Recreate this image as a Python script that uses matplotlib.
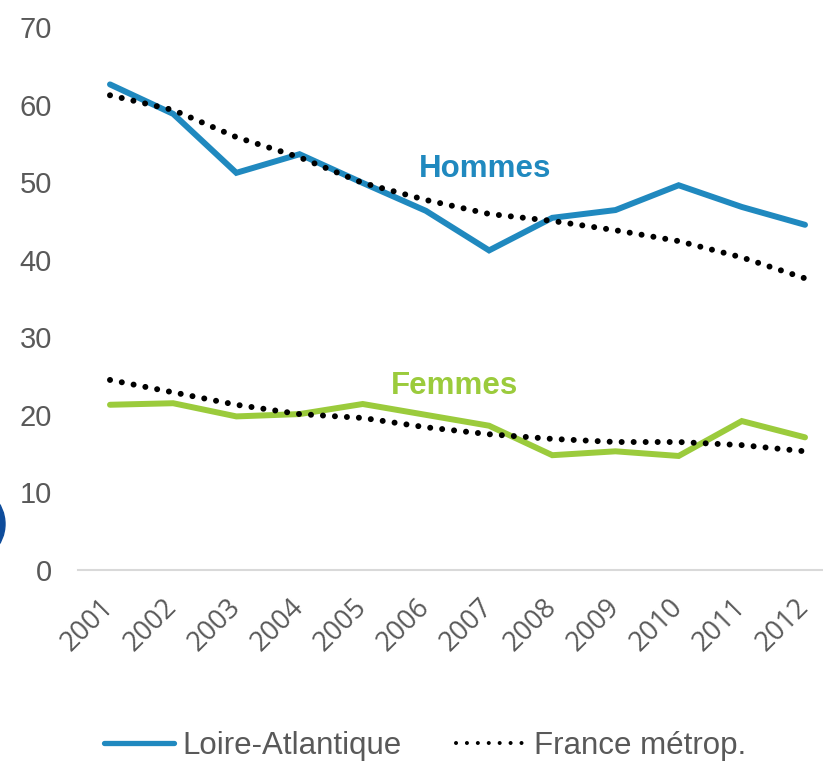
import matplotlib
matplotlib.use("Agg")
import matplotlib.pyplot as plt
from matplotlib.patches import Ellipse
from matplotlib.lines import Line2D

# Données (taux pour 100 000)
annees = ["2001", "2002", "2003", "2004", "2005", "2006",
          "2007", "2008", "2009", "2010", "2011", "2012"]
hommes_la = [62.6, 58.8, 51.2, 53.6, 49.9, 46.3, 41.2, 45.4, 46.4, 49.6, 46.8, 44.5]
hommes_fr = [61.2, 59.3, 55.8, 53.2, 49.9, 47.7, 45.9, 45.0, 43.8, 42.4, 40.3, 37.6]
femmes_la = [21.3, 21.5, 19.8, 20.1, 21.4, 20.0, 18.6, 14.8, 15.3, 14.7, 19.2, 17.1]
femmes_fr = [24.5, 22.9, 21.3, 20.1, 19.6, 18.4, 17.5, 16.9, 16.5, 16.5, 16.1, 15.3]

bleu = "#2089BF"
vert = "#9BCB3C"
gris = "#595959"

fig = plt.figure(figsize=(8.23, 7.63), dpi=100)
ax = fig.add_axes([78.4 / 823, 193 / 763, 758.2 / 823, 543 / 763])

x = list(range(len(annees)))
pointille = (0, (0.01, 2))
ax.plot(x, hommes_la, color=bleu, lw=4.3, solid_capstyle="round", solid_joinstyle="miter")
ax.plot(x, hommes_fr, color="black", lw=4.3, linestyle=pointille, dash_capstyle="round")
ax.plot(x, femmes_la, color=vert, lw=4.3, solid_capstyle="round", solid_joinstyle="miter")
ax.plot(x, femmes_fr, color="black", lw=4.3, linestyle=pointille, dash_capstyle="round")

ax.text(5.93, 51.7, "Hommes", color=bleu, fontsize=22.5, fontweight="bold",
        family="Liberation Sans", ha="center", va="center")
ax.text(5.46, 23.7, "Femmes", color=vert, fontsize=22.5, fontweight="bold",
        family="Liberation Sans", ha="center", va="center")

ax.set_xlim(-0.5, 11.5)
ax.set_ylim(0, 70)
ax.set_yticks(range(0, 71, 10))
ax.set_xticks(x)
ax.set_xticklabels(annees, rotation=45, ha="right", va="center", rotation_mode="anchor",
                   family="Open Sans", fontsize=19.5, color=gris)
for lab in ax.get_yticklabels():
    lab.set_family("Liberation Sans")
ax.tick_params(axis="y", length=0, pad=19, labelsize=21, labelcolor=gris)
ax.tick_params(axis="x", length=0, pad=24)
for s in ["top", "right", "left"]:
    ax.spines[s].set_visible(False)
ax.spines["bottom"].set_color("#D9D9D9")
ax.spines["bottom"].set_linewidth(1.5)

handles = [Line2D([], [], color=bleu, lw=3.8, solid_capstyle="round"),
           Line2D([], [], color="black", lw=2.9, linestyle=(0, (0.01, 2.7)), dash_capstyle="round")]
fig.legend(handles, ["Loire-Atlantique", "France métrop."], loc="center",
           bbox_to_anchor=(425 / 823, 1 - 746 / 763), ncol=2, frameon=False,
           prop={"family": "Liberation Sans", "size": 22.5}, labelcolor=gris,
           handlelength=2.25, handletextpad=0.25, columnspacing=1.75,
           borderpad=0, borderaxespad=0)

# pastille bleue coupée au bord gauche
fig.patches.append(Ellipse((-33.6 / 823, 1 - 524 / 763), 77.2 / 823, 77.2 / 763,
                           color="#0E4C9B", transform=fig.transFigure, figure=fig))

fig.savefig("out.png", dpi=100)
